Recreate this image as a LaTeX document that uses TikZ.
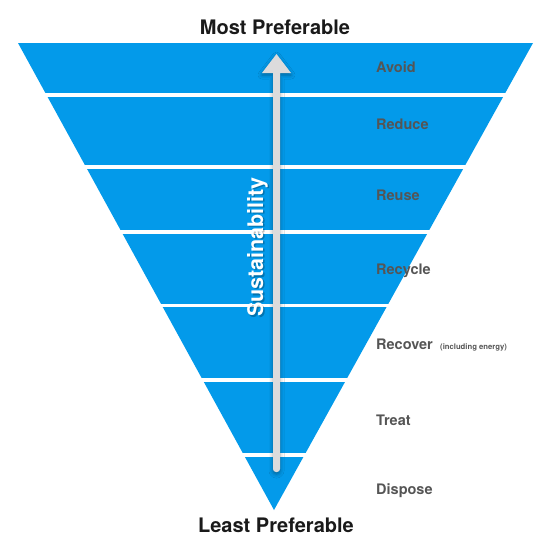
\documentclass[tikz,border=0pt]{standalone}
\usepackage{fontspec}
\setmainfont{TeX Gyre Heros}
\usetikzlibrary{shadows.blur}
\definecolor{funnelblue}{RGB}{3,154,234}
\definecolor{labelgray}{RGB}{85,85,85}
\definecolor{arrowgray}{RGB}{220,219,220}
\definecolor{titleblack}{RGB}{26,26,26}
\begin{document}
\begin{tikzpicture}[x=1pt,y=-1pt,
  title/.style={font=\bfseries\fontsize{20}{24}\selectfont, text=titleblack, inner sep=0pt},
  level/.style={font=\bfseries\fontsize{14.5}{17}\selectfont, text=labelgray, inner sep=0pt, anchor=base west},
  gap/.style={fill=white, draw=none}]
\useasboundingbox (0,0) rectangle (551,560);
% funnel
\fill[funnelblue] (18,43) -- (533,43) -- (274,510) -- cycle;
% white separators
\foreach \a/\b in {93/97, 165/169, 229.5/233.5, 303.5/307.3, 377.5/381.5, 453/456.5}
  \fill[gap] (0,\a) rectangle (551,\b);
% arrow
\fill[arrowgray, blur shadow={shadow xshift=0pt, shadow yshift=-2pt, shadow blur radius=4pt, shadow opacity=35}]
  (276.5,54) -- (291,73) -- (280,73) -- (280,469) to[out=-90,in=0] (277,472) -- (276,472) to[out=180,in=-90] (273,469) -- (273,73) -- (262,73) -- cycle;
% sustainability label
\node[rotate=90, anchor=base, inner sep=0pt, font=\bfseries\fontsize{21.5}{24}\selectfont, text=black, opacity=0.25] at (264.5,248.5) {Sustainability};
\node (sus) [rotate=90, anchor=base, inner sep=0pt, font=\bfseries\fontsize{21.5}{24}\selectfont, text=white] at (263,247) {Sustainability};
% titles
\node (most) [title, anchor=base] at (275,34) {Most Preferable};
\node (least) [title, anchor=base] at (276,532) {Least Preferable};
% level labels
\node (avoid) [level] at (376,72.7) {Avoid};
\node (reduce) [level] at (376,129.3) {Reduce};
\node (reuse) [level] at (376,200) {Reuse};
\node (recycle) [level] at (376,274.3) {Recycle};
\node (recover) [level] at (376,349.3) {Recover};
\node (energy) [level, font=\bfseries\fontsize{7.7}{9}\selectfont] at (440,349.3) {(including energy)};
\node (treat) [level] at (376,425.7) {Treat};
\node (dispose) [level] at (376,494.3) {Dispose};
\end{tikzpicture}
\end{document}
